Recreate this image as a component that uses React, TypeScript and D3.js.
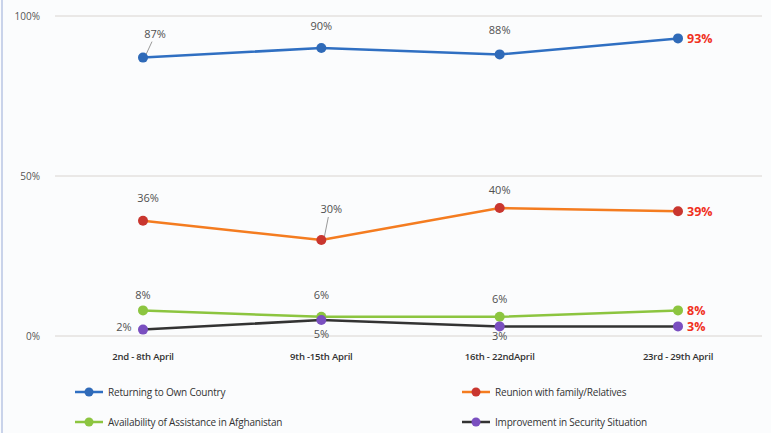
import React from 'react';
import * as d3 from 'd3';

const weeks = ['2nd - 8th April', '9th -15th April', '16th - 22ndApril', '23rd - 29th April'];
const returning = [87, 90, 88, 93];
const reunion = [36, 30, 40, 39];
const assistance = [8, 6, 6, 8];
const security = [2, 5, 3, 3];
const yTicks = [0, 50, 100];

type Series = {
  name: string;
  values: number[];
  line: string;
  dot: string;
  // label offsets (dx, dy) per point, last one is drawn red to the right
  offsets: [number, number][];
  leader?: number; // index of point that gets a leader line
};

const series: Series[] = [
  { name: 'Returning to Own Country', values: returning, line: '#2f6fc2', dot: '#2f6ab8',
    offsets: [[12, -20], [0, -18], [0, -20], [0, 0]], leader: 0 },
  { name: 'Reunion with family/Relatives', values: reunion, line: '#f47c20', dot: '#c9362f',
    offsets: [[5, -19], [10, -27], [0, -14], [0, 0]], leader: 1 },
  { name: 'Availability of Assistance in Afghanistan', values: assistance, line: '#8cc540', dot: '#8cc540',
    offsets: [[0, -11], [0, -18], [0, -14], [0, 0]] },
  { name: 'Improvement in Security Situation', values: security, line: '#333333', dot: '#7a4fc0',
    offsets: [[-19, 1], [0, 18], [0, 14], [0, 0]] },
];

const W = 771;
const H = 433;
const font = "'Open Sans', 'Liberation Sans', sans-serif";

const App: React.FC = () => {
  const x = d3.scalePoint<string>().domain(weeks).range([143, 678]);
  const y = d3.scaleLinear().domain([0, 100]).range([336, 16]);
  const line = d3
    .line<number>()
    .x((_, i) => x(weeks[i]) as number)
    .y((d) => y(d));

  const legendPos = [
    [75, 392],
    [462, 392],
    [75, 422],
    [462, 422],
  ];

  return (
    <svg width={W} height={H} style={{ position: 'absolute', left: 0, top: 0, background: '#fbfcfd' }}>
      <rect x={0} y={0} width={W} height={H} fill="#fbfcfd" />
      <line x1={2} x2={2} y1={0} y2={H} stroke="#c9d3ea" strokeWidth={2} />

      {/* gridlines + y labels */}
      {yTicks.map((t) => (
        <g key={t}>
          <line x1={55} x2={762} y1={y(t)} y2={y(t)} stroke="#d9d4d0" strokeWidth={1} />
          <text x={40} y={y(t) + 4} textAnchor="end" fontFamily={font} fontSize={10} fill="#555">
            {t}%
          </text>
        </g>
      ))}

      {/* x labels */}
      {weeks.map((w) => (
        <text key={w} x={x(w)} y={360} textAnchor="middle" fontFamily={font} fontSize={9.5}
          fontWeight={600} fill="#333" letterSpacing={-0.2}>
          {w}
        </text>
      ))}

      {/* lines */}
      {series.map((s) => (
        <path key={s.name} d={line(s.values) ?? ''} fill="none" stroke={s.line} strokeWidth={2.5} />
      ))}

      {/* dots + labels */}
      {series.map((s) => (
        <g key={s.name + 'pts'}>
          {s.values.map((v, i) => {
            const cx = x(weeks[i]) as number;
            const cy = y(v);
            const last = i === s.values.length - 1;
            const [dx, dy] = s.offsets[i];
            return (
              <g key={i}>
                {s.leader === i && (
                  <line x1={cx + 3} y1={cy - 3} x2={cx + dx - 3} y2={cy + dy + 4}
                    stroke="#999" strokeWidth={1} />
                )}
                <circle cx={cx} cy={cy} r={5} fill={s.dot} />
                {last ? (
                  <text x={cx + 9} y={cy + 5} fontFamily={font} fontSize={12.5} fontWeight={700}
                    fill="#f0311e">
                    {v}%
                  </text>
                ) : (
                  <text x={cx + dx} y={cy + dy} textAnchor="middle" fontFamily={font} fontSize={11}
                    fill="#505050">
                    {v}%
                  </text>
                )}
              </g>
            );
          })}
        </g>
      ))}

      {/* legend */}
      {series.map((s, i) => {
        const [lx, ly] = legendPos[i];
        return (
          <g key={s.name + 'lg'}>
            <line x1={lx} x2={lx + 28} y1={ly} y2={ly} stroke={s.line} strokeWidth={2.5} />
            <circle cx={lx + 14} cy={ly} r={4.5} fill={s.dot} />
            <text x={lx + 33} y={ly + 3.5} fontFamily={font} fontSize={10} fill="#333" letterSpacing={-0.2}>
              {s.name}
            </text>
          </g>
        );
      })}
    </svg>
  );
};

export default App;
